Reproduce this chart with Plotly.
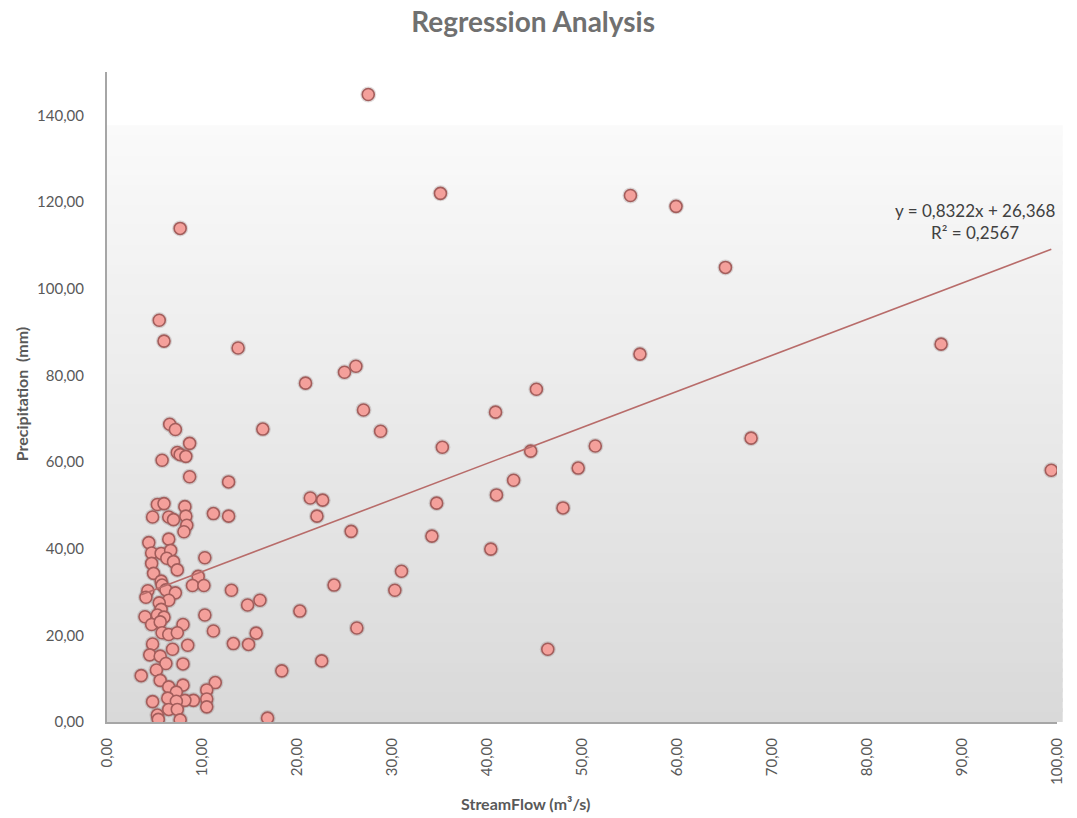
import plotly.graph_objects as go

# ---- data ----
streamflow = [
    27.5, 35.1, 55.1, 59.9, 7.7, 65.1, 87.8, 99.4, 67.8, 56.1, 45.2, 40.9, 5.5, 6.0, 13.8,
    26.2, 25.0, 20.9, 27.0, 28.8, 16.4, 35.3, 51.4, 44.6, 42.8, 49.6, 48.0, 34.7, 41.0,
    21.4, 22.7, 22.1, 25.7, 34.2, 40.4, 31.0, 30.3, 23.9, 20.3, 26.3, 22.6, 18.4, 46.4, 16.9,
    14.8, 16.1, 15.7, 14.9,
    6.6, 7.2, 8.7, 7.4, 7.7, 8.3, 5.8, 8.7, 12.8, 5.3, 6.0, 8.2, 4.8, 6.5, 7.0, 8.3, 11.2,
    12.8, 8.4, 8.1, 4.4, 6.5, 4.7, 5.7, 6.7, 6.3, 7.0, 10.3, 4.7, 4.9, 7.4, 5.7, 5.8, 9.6,
    9.0, 10.2, 13.1, 6.2, 4.3, 7.2, 4.1, 6.5, 5.5, 5.7, 5.3, 6.0, 4.0, 10.3, 4.7, 5.6, 8.0,
    11.2, 5.8, 6.5, 7.4, 13.3, 4.8, 6.9, 8.5, 4.5, 5.6, 6.2, 8.0, 5.2, 3.6, 5.6, 6.5, 8.0,
    11.4, 10.5, 7.3, 10.5, 10.5, 9.1, 8.2, 6.4, 7.3, 4.8, 6.5, 7.4, 5.3, 5.4, 7.7,
]
precipitation = [
    144.8, 122.0, 121.5, 119.0, 113.9, 104.9, 87.2, 58.1, 65.5, 84.9, 76.8, 71.5, 92.7, 87.9, 86.3,
    82.1, 80.7, 78.2, 72.0, 67.1, 67.6, 63.4, 63.7, 62.5, 55.8, 58.6, 49.4, 50.5, 52.4,
    51.7, 51.2, 47.5, 44.0, 42.9, 39.9, 34.8, 30.4, 31.6, 25.6, 21.7, 14.1, 11.8, 16.8, 0.9,
    27.0, 28.1, 20.5, 17.9,
    68.7, 67.5, 64.3, 62.2, 61.7, 61.3, 60.4, 56.6, 55.4, 50.2, 50.4, 49.7, 47.3, 47.3, 46.7, 47.5, 48.1,
    47.5, 45.4, 43.9, 41.4, 42.2, 39.0, 38.9, 39.6, 37.8, 37.0, 37.9, 36.6, 34.3, 35.1, 32.5, 31.6, 33.6,
    31.5, 31.5, 30.4, 30.5, 30.3, 29.8, 28.8, 28.1, 27.5, 26.0, 24.7, 24.2, 24.3, 24.7, 22.5, 23.1, 22.5,
    21.0, 20.6, 20.2, 20.6, 18.1, 18.0, 16.8, 17.7, 15.5, 15.2, 13.5, 13.4, 12.0, 10.7, 9.6, 8.1, 8.5,
    9.1, 7.4, 6.9, 5.3, 3.5, 5.0, 5.0, 5.5, 4.8, 4.7, 2.9, 2.9, 1.6, 0.6, 0.5,
]
slope = 0.8322
intercept = 26.368
r_squared = 0.2567
x_ticks = [0, 10, 20, 30, 40, 50, 60, 70, 80, 90, 100]
y_ticks = [0, 20, 40, 60, 80, 100, 120, 140]

trend_x = [min(streamflow), max(streamflow)]
trend_y = [slope * v + intercept for v in trend_x]

fig = go.Figure()

# soft shadow under markers
fig.add_trace(go.Scatter(
    x=streamflow, y=precipitation, mode="markers", hoverinfo="skip",
    marker=dict(size=16, color="rgba(90,60,60,0.18)", line=dict(width=0)),
    showlegend=False,
))
fig.add_trace(go.Scatter(
    x=streamflow, y=precipitation, mode="markers", name="Precipitation",
    marker=dict(size=12, color="#F4A09B", line=dict(color="#A35D5B", width=1.6)),
    showlegend=False,
))
fig.add_trace(go.Scatter(
    x=trend_x, y=trend_y, mode="lines", name="Linear",
    line=dict(color="#B86C6A", width=1.6), showlegend=False,
))

# gradient plot-area background (overlapping bands to avoid seams)
shapes = []
top_white = 0.918  # paper fraction where gradient starts
n = 60
for i in range(n):
    y0 = top_white * i / n
    y1 = min(top_white, top_white * (i + 1) / n + 0.006)
    t = (i + 0.5) / n  # 0 bottom -> 1 top
    c = int(round(217 + (250 - 217) * t))
    shapes.append(dict(type="rect", xref="paper", yref="paper", x0=0, x1=1.006,
                       y0=y0, y1=y1, fillcolor=f"rgb({c},{c},{c})",
                       line=dict(width=0), layer="below"))

font_family = "Lato, 'Open Sans', sans-serif"

fig.update_layout(
    width=1077, height=818,
    margin=dict(l=107, r=17, t=72, b=96),
    paper_bgcolor="white", plot_bgcolor="white",
    separators=",.",
    shapes=shapes,
    font=dict(family=font_family, color="#595959", size=15),
    title=dict(text="<b>Regression Analysis</b>", x=0.495, xanchor="center",
               y=0.973, yanchor="middle",
               font=dict(size=28, color="#707070", family=font_family)),
    xaxis=dict(range=[0, 100], tickvals=x_ticks, tickformat=".2f", tickangle=-90,
               showgrid=False, zeroline=False, showline=True, linecolor="#a6a6a6",
               linewidth=2, ticks="", ticklabelstandoff=8,
               tickfont=dict(size=15, color="#595959")),
    yaxis=dict(range=[0, 150], tickvals=y_ticks, tickformat=".2f",
               showgrid=False, zeroline=False, showline=True, linecolor="#a6a6a6",
               linewidth=2, ticks="", ticklabelstandoff=18,
               tickfont=dict(size=15, color="#595959")),
    annotations=[
        dict(text="<b>StreamFlow (m³/s)</b>", xref="paper", yref="paper",
             x=(527 - 107) / 953, y=-(804 - 722) / 650, xanchor="center", yanchor="middle",
             showarrow=False, font=dict(size=16, color="#595959")),
        dict(text="<b>Precipitation  (mm)</b>", xref="paper", yref="paper",
             x=-(107 - 21) / 953, y=(722 - 394) / 650, xanchor="center", yanchor="middle",
             textangle=-90, showarrow=False, font=dict(size=16, color="#595959")),
        dict(text=f"y = {slope:.4f}x + {intercept:.3f}".replace(".", ",")
             + "<br>" + f"R² = {r_squared:.4f}".replace(".", ","),
             xref="paper", yref="paper", x=(978 - 107) / 953, y=(722 - 221) / 650,
             xanchor="center", yanchor="middle", showarrow=False, align="center",
             font=dict(size=17, color="#404040")),
    ],
)

fig.write_html("out.html")
